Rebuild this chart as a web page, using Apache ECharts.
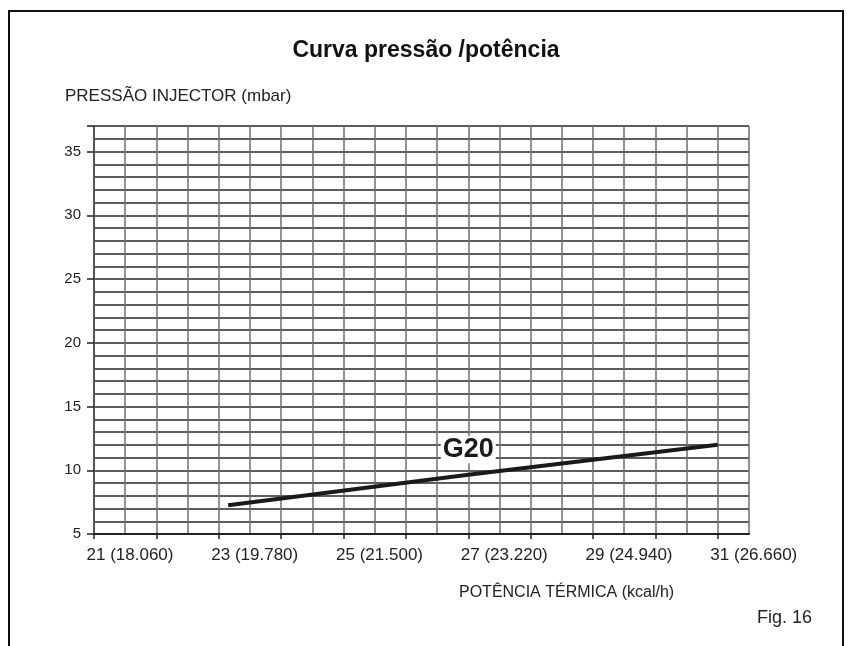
<!DOCTYPE html>
<html><head><meta charset="utf-8">
<script src="https://cdn.jsdelivr.net/npm/echarts@6/dist/echarts.min.js"></script>
<style>html,body{margin:0;padding:0;background:#fff}#c{width:850px;height:646px}</style>
</head><body><div id="c"></div>
<script>
const powerX = [23.15, 27, 31];
const pressureG20 = [7.25, 9.65, 12.0];
const xTickLabels = {21:'21 (18.060)',23:'23 (19.780)',25:'25 (21.500)',27:'27 (23.220)',29:'29 (24.940)',31:'31 (26.660)'};
const yTickValues = [5,10,15,20,25,30,35];
const seriesName = 'G20';
const labelPos = [27, 11.6];

const FONT = '"Liberation Sans","Arial",sans-serif';
const chart = echarts.init(document.getElementById('c'));
chart.setOption({
  animation:false,
  backgroundColor:'#fff',
  graphic:[
    {type:'rect', shape:{x:9,y:11,width:834,height:700}, style:{fill:'none',stroke:'#111',lineWidth:2}},
    {type:'text', x:426, y:39, style:{text:'Curva pressão /potência', font:'bold 23px '+FONT, fill:'#111', align:'center'}},
    {type:'text', x:65, y:88, style:{text:'PRESSÃO INJECTOR (mbar)', font:'17px '+FONT, fill:'#222'}},
    {type:'text', x:459, y:585, style:{text:'POTÊNCIA TÉRMICA (kcal/h)', font:'16px '+FONT, fill:'#222'}},
    {type:'text', x:757, y:609, style:{text:'Fig. 16', font:'18px '+FONT, fill:'#222'}}
  ],
  grid:{left:94, right:101, top:126, bottom:112},
  xAxis:[
    {type:'value', min:21, max:31.5, interval:0.5, position:'bottom',
     axisLine:{show:false}, axisTick:{show:false}, axisLabel:{show:false},
     splitLine:{show:true, lineStyle:{color:'#6e6e6e', width:1.5}}},
    {type:'value', min:21, max:31.5, interval:1, position:'bottom',
     axisLine:{show:true, onZero:false, lineStyle:{color:'#222', width:2}},
     axisTick:{show:true, length:5, lineStyle:{color:'#222', width:1.5}},
     axisLabel:{show:true, margin:13, fontFamily:FONT, fontSize:17, color:'#222',
       padding:[0,0,0,72], formatter:v=>xTickLabels[v]||'', showMaxLabel:false},
     splitLine:{show:false}}
  ],
  yAxis:[
    {type:'value', min:5, max:37, interval:1,
     axisLine:{show:false}, axisTick:{show:false}, axisLabel:{show:false},
     splitLine:{show:true, lineStyle:{color:'#262626', width:1.5}}},
    {type:'value', min:5, max:37, interval:5, position:'left',
     axisLine:{show:true, onZero:false, lineStyle:{color:'#555', width:2}},
     axisTick:{show:true, length:7, lineStyle:{color:'#222', width:1.5}},
     axisLabel:{show:true, margin:13, fontFamily:FONT, fontSize:15, color:'#222',
       formatter:v=>yTickValues.includes(v)?String(v):''},
     splitLine:{show:false}}
  ],
  series:[{
    type:'line', name:seriesName, xAxisIndex:0, yAxisIndex:0,
    data:powerX.map((x,i)=>[x,pressureG20[i]]),
    symbol:'none', lineStyle:{color:'#1a1a1a', width:4}, z:5,
    markPoint:{symbol:'rect', symbolSize:0, silent:true,
      data:[{coord:labelPos, label:{show:true, formatter:seriesName, position:'inside',
        fontFamily:FONT, fontWeight:'bold', fontSize:27, color:'#1a1a1a',
        backgroundColor:'#fff', padding:[0,2,0,2]}}]}
  }]
});
</script></body></html>
